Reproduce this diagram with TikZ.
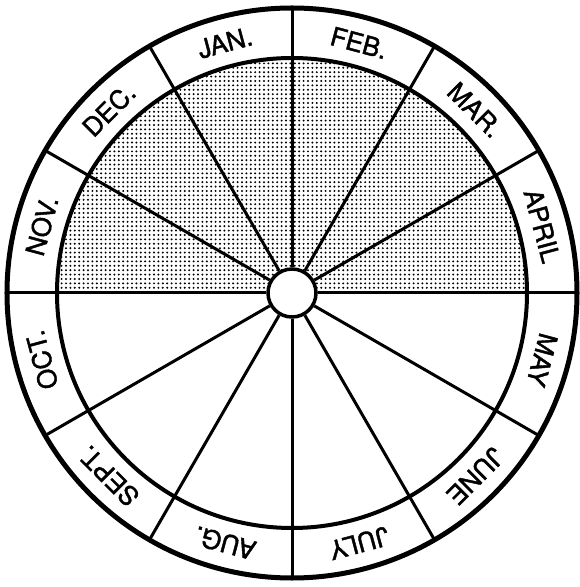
\documentclass[tikz,border=0pt]{standalone}
\usepackage{fontspec}
\setmainfont{TeX Gyre Heros}
\newfontfamily\monthfont[FakeBold=1.6]{TeX Gyre Heros}
\usetikzlibrary{patterns.meta}

\begin{document}
\begin{tikzpicture}[x=1bp, y=1bp,
  rim/.style={line width=5bp},
  ring/.style={line width=4bp},
  spoke/.style={line width=3bp},
  month/.style={font=\monthfont\fontsize{26}{26}\selectfont, inner sep=0pt}]
\useasboundingbox (-292,-294) rectangle (288,293);

% --- stippled upper half ---
\fill[pattern={Dots[distance=4.4bp, radius=1.1bp]}]
  (235,0) arc[start angle=0, end angle=180, radius=235] -- cycle;

% --- hub ---
\node[circle, draw, line width=3.5bp, fill=white, minimum size=48bp, inner sep=0pt] (hub) at (0,0) {};

% --- spokes every 30 degrees, through the month ring ---
\foreach \a in {0,30,...,330}{ \draw[spoke] (hub.\a) -- (\a:285); }

% --- ring and rim ---
\draw[ring] (0,0) circle[radius=235];
\draw[rim] (0,0) circle[radius=285];

% --- month names ---
\foreach \m [count=\i] in {JAN.,FEB.,MAR.,APRIL,MAY,JUNE,JULY,AUG.,SEPT.,OCT.,NOV.,DEC.}{
  \pgfmathsetmacro\ang{135-30*\i}
  \node[month, rotate=\ang-90] (m\i) at (\ang:259) {\m};
}
\end{tikzpicture}
\end{document}
